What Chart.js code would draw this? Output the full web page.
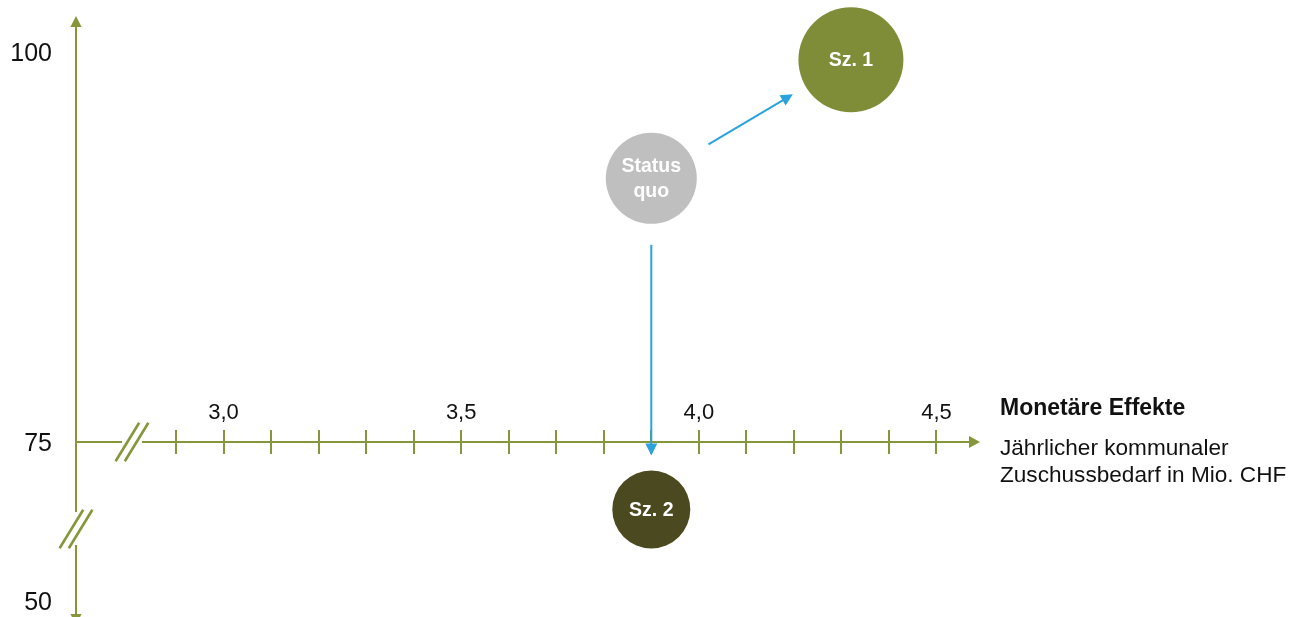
<!DOCTYPE html>
<html lang="de">
<head>
<meta charset="utf-8">
<title>Monetäre Effekte – Szenarien</title>
<script src="https://cdn.jsdelivr.net/npm/chart.js@4/dist/chart.umd.min.js"></script>
<style>
  html, body { margin: 0; padding: 0; background: #ffffff; }
  #wrap { position: relative; width: 1308px; height: 617px; }
</style>
</head>
<body>
<div id="wrap"><canvas id="chart" width="1308" height="617"></canvas></div>
<script>
// Scenarios: annual municipal subsidy (Mio. CHF) vs. score, bubble radius in px
const scenarioNames   = ['Status quo', 'Sz. 1', 'Sz. 2'];
const scenarioLines   = [['Status', 'quo'], ['Sz. 1'], ['Sz. 2']];
const annualSubsidy   = [3.90, 4.32, 3.90];
const scoreValues     = [91.9, 99.5, 64.4];
const bubbleRadius    = [45.5, 52.5, 39];
const scoreSegment    = ['upper', 'upper', 'lower'];   // which part of the broken y axis
const scenarioColors  = ['#bfbfbf', '#7f8d39', '#4a491f'];

// Transitions drawn as arrows (from index -> to index)
const transitionFrom  = [0, 0];
const transitionTo    = [1, 2];

// Axis ticks
const xTickValues  = [3.0, 3.5, 4.0, 4.5];
const xTickLabels  = ['3,0', '3,5', '4,0', '4,5'];
const xMinorStart  = 2.9;
const xMinorEnd    = 4.5;
const xMinorStep   = 0.1;
const yTickValues  = [100, 75, 50];
const yTickLabels  = ['100', '75', '50'];

const xAxisTitle   = 'Monetäre Effekte';
const xAxisSub     = ['Jährlicher kommunaler', 'Zuschussbedarf in Mio. CHF'];

const FONT   = "'Liberation Sans', Arial, Helvetica, sans-serif";
const AXIS   = '#85963b';
const ARROW  = '#2aa3dc';
const TEXT   = '#111111';

// Build one dataset per y-axis segment
function segmentDataset(seg, axisId) {
  const idx = [];
  scenarioNames.forEach((_, i) => { if (scoreSegment[i] === seg) idx.push(i); });
  return {
    label: seg,
    yAxisID: axisId,
    data: idx.map(i => ({ x: annualSubsidy[i], y: scoreValues[i], r: bubbleRadius[i], k: i })),
    backgroundColor: idx.map(i => scenarioColors[i]),
    borderWidth: 0,
    clip: false
  };
}

function centerOf(chart, k) {
  for (let d = 0; d < chart.data.datasets.length; d++) {
    const ds = chart.data.datasets[d];
    const j = ds.data.findIndex(p => p.k === k);
    if (j >= 0) {
      const el = chart.getDatasetMeta(d).data[j];
      return { x: el.x, y: el.y, r: ds.data[j].r };
    }
  }
  return null;
}

function arrowHead(ctx, x, y, ux, uy, len, half) {
  const bx = x - ux * len, by = y - uy * len;
  ctx.beginPath();
  ctx.moveTo(x, y);
  ctx.lineTo(bx - uy * half, by + ux * half);
  ctx.lineTo(bx + uy * half, by - ux * half);
  ctx.closePath();
  ctx.fill();
}

function breakMark(ctx, cx, cy) {
  ctx.save();
  ctx.lineWidth = 2.6;
  ctx.strokeStyle = AXIS;
  [-4.6, 4.6].forEach(off => {
    ctx.beginPath();
    ctx.moveTo(cx + off - 11.8, cy + 19.2);
    ctx.lineTo(cx + off + 11.8, cy - 19.2);
    ctx.stroke();
  });
  ctx.restore();
}

const axisPlugin = {
  id: 'brokenAxes',
  beforeDatasetsDraw(chart) {
    const { ctx, chartArea, scales } = chart;
    const xs = scales.x, yHi = scales.yHigh, yLo = scales.yLow;
    const axisY = yHi.getPixelForValue(75);
    const axisX = chartArea.left - 100;
    const top = yHi.getPixelForValue(100);
    const bottom = yLo.getPixelForValue(50);
    const yBreak = axisY + 87;
    const xBreak = axisX + 56;
    const xEnd = xs.getPixelForValue(4.6) - 4;

    ctx.save();
    ctx.strokeStyle = AXIS;
    ctx.fillStyle = AXIS;
    ctx.lineWidth = 2;

    // vertical axis with break
    ctx.beginPath();
    ctx.moveTo(axisX, top - 27);
    ctx.lineTo(axisX, yBreak - 17);
    ctx.moveTo(axisX, yBreak + 16);
    ctx.lineTo(axisX, bottom + 14);
    ctx.stroke();
    arrowHead(ctx, axisX, top - 36, 0, -1, 11, 5.6);
    arrowHead(ctx, axisX, bottom + 24, 0, 1, 11, 5.6);
    breakMark(ctx, axisX, yBreak);

    // horizontal axis with break
    ctx.beginPath();
    ctx.moveTo(axisX, axisY);
    ctx.lineTo(xBreak - 10, axisY);
    ctx.moveTo(xBreak + 10, axisY);
    ctx.lineTo(xEnd - 10, axisY);
    ctx.stroke();
    arrowHead(ctx, xEnd, axisY, 1, 0, 11, 6);
    breakMark(ctx, xBreak, axisY);

    // minor tick marks
    const n = Math.round((xMinorEnd - xMinorStart) / xMinorStep);
    ctx.beginPath();
    for (let i = 0; i <= n; i++) {
      const px = Math.round(xs.getPixelForValue(xMinorStart + i * xMinorStep));
      ctx.moveTo(px, axisY - 12);
      ctx.lineTo(px, axisY + 12);
    }
    ctx.stroke();

    // tick labels
    ctx.fillStyle = TEXT;
    ctx.font = '22px ' + FONT;
    ctx.textAlign = 'center';
    ctx.textBaseline = 'middle';
    xTickValues.forEach((v, i) => {
      ctx.fillText(xTickLabels[i], xs.getPixelForValue(v), axisY - 29);
    });

    ctx.font = '25px ' + FONT;
    ctx.textAlign = 'right';
    yTickValues.forEach((v, i) => {
      const sc = v >= 75 ? yHi : yLo;
      ctx.fillText(yTickLabels[i], axisX - 24, sc.getPixelForValue(v) + 2);
    });

    // axis title
    ctx.textAlign = 'left';
    ctx.font = 'bold 23px ' + FONT;
    ctx.fillText(xAxisTitle, chartArea.right + 16, axisY - 33);
    ctx.font = '22.6px ' + FONT;
    xAxisSub.forEach((t, i) => ctx.fillText(t, chartArea.right + 16, axisY + 7 + i * 26.5));
    ctx.restore();
  },
  afterDatasetsDraw(chart) {
    const { ctx } = chart;
    ctx.save();

    // transition arrows
    ctx.strokeStyle = ARROW;
    ctx.fillStyle = ARROW;
    ctx.lineWidth = 2;
    transitionFrom.forEach((f, i) => {
      const a = centerOf(chart, f), b = centerOf(chart, transitionTo[i]);
      const dx = b.x - a.x, dy = b.y - a.y, len = Math.hypot(dx, dy);
      const ux = dx / len, uy = dy / len;
      const sx = a.x + ux * (a.r + 21), sy = a.y + uy * (a.r + 21);
      const ex = b.x - ux * (b.r + 15), ey = b.y - uy * (b.r + 15);
      ctx.beginPath();
      ctx.moveTo(sx, sy);
      ctx.lineTo(ex - ux * 8, ey - uy * 8);
      ctx.stroke();
      arrowHead(ctx, ex, ey, ux, uy, 12, 6);
    });

    // bubble labels
    ctx.fillStyle = '#ffffff';
    ctx.font = 'bold 19.5px ' + FONT;
    ctx.textAlign = 'center';
    ctx.textBaseline = 'middle';
    scenarioNames.forEach((_, k) => {
      const c = centerOf(chart, k);
      const lines = scenarioLines[k];
      lines.forEach((t, j) => {
        ctx.fillText(t, c.x, c.y + 1 + (j - (lines.length - 1) / 2) * 25);
      });
    });
    ctx.restore();
  }
};

new Chart(document.getElementById('chart'), {
  type: 'bubble',
  data: {
    datasets: [
      segmentDataset('upper', 'yHigh'),
      segmentDataset('lower', 'yLow')
    ]
  },
  options: {
    responsive: false,
    animation: false,
    events: [],
    layout: { autoPadding: false, padding: { left: 176, right: 324, top: 52, bottom: 16 } },
    scales: {
      x: { type: 'linear', min: 2.9, max: 4.6, display: false },
      yLow: { type: 'linear', position: 'left', min: 50, max: 75, display: false,
              stack: 'score', stackWeight: 159 },
      yHigh: { type: 'linear', position: 'left', min: 75, max: 100, display: false,
               stack: 'score', stackWeight: 390 }
    },
    plugins: {
      legend: { display: false },
      tooltip: { enabled: false },
      title: { display: false }
    }
  },
  plugins: [axisPlugin]
});
</script>
</body>
</html>
